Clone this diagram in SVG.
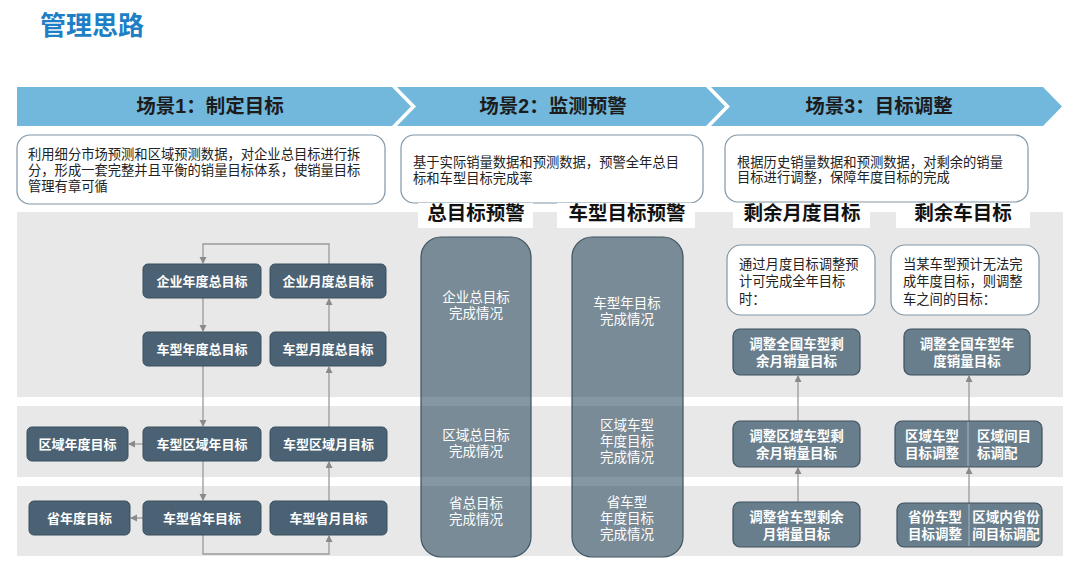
<svg xmlns="http://www.w3.org/2000/svg" width="1080" height="562" viewBox="0 0 1080 562">
<defs>
<style>
text{font-family:"Liberation Sans","Noto Sans CJK SC",sans-serif;dominant-baseline:central}
.title{font-size:26px;font-weight:bold;fill:#1f7fc6}
.ban{fill:#72b8dc}
.bt{font-size:19.5px;font-weight:bold;fill:#1c1c1c;text-anchor:middle}
.desc{fill:#fff;stroke:#8196a6;stroke-width:1.2}
.dt{font-size:13.3px;fill:#222}
.band{fill:#e8e8e8}
.hb{fill:#fff}
.ht{font-size:19.5px;font-weight:bold;fill:#111;text-anchor:middle}
.n{fill:#4b6274;stroke:#3a4e5d;stroke-width:1}
.nt{font-size:13px;font-weight:bold;fill:#fff;text-anchor:middle}
.col{fill:#062a42;fill-opacity:0.49;stroke:#3f5361;stroke-width:1.2}
.ct{font-size:13.5px;fill:#fff;text-anchor:middle}
.rn{fill:#697e8c;stroke:#3e5160;stroke-width:1.2}
.rt{font-size:13.5px;font-weight:bold;fill:#fff;text-anchor:middle}
.rtl{font-size:13.5px;font-weight:bold;fill:#fff}
.div{stroke:#a7b6c1;stroke-width:1}
.c{fill:none;stroke:#9a9a9a;stroke-width:1.3;marker-end:url(#ah)}
</style>
<marker id="ah" markerWidth="8" markerHeight="8" refX="6" refY="3.5" orient="auto" markerUnits="userSpaceOnUse">
<path d="M0,0 L7,3.5 L0,7 Z" fill="#8a8a8a"/>
</marker>
</defs>
<rect width="1080" height="562" fill="#fff"/>
<text class="title" x="40" y="26">管理思路</text>

<g id="banner">
<polygon class="ban" points="17,87 392,87 411,106.5 392,126 17,126"/>
<polygon class="ban" points="397,87 706,87 725,106.5 706,126 397,126 416,106.5"/>
<polygon class="ban" points="711,87 1043,87 1062,106.5 1043,126 711,126 730,106.5"/>
<text class="bt" x="210" y="106">场景1：制定目标</text>
<text class="bt" x="553" y="106">场景2：监测预警</text>
<text class="bt" x="879" y="106">场景3：目标调整</text>
</g>

<g id="bands">
<rect class="band" x="17" y="212" width="1046" height="185"/>
<rect class="band" x="17" y="406" width="1046" height="71"/>
<rect class="band" x="17" y="486" width="1046" height="70"/>
</g>

<g id="desc1">
<rect class="desc" x="17" y="135" width="368" height="69" rx="13"/>
<text class="dt"><tspan x="28" y="154">利用细分市场预测和区域预测数据，对企业总目标进行拆</tspan><tspan x="28" y="170">分，形成一套完整并且平衡的销量目标体系，使销量目标</tspan><tspan x="28" y="186">管理有章可循</tspan></text>
</g>
<g id="desc2">
<rect class="desc" x="401" y="135" width="302" height="68" rx="13"/>
<text class="dt"><tspan x="413" y="162">基于实际销量数据和预测数据，预警全年总目</tspan><tspan x="413" y="178">标和车型目标完成率</tspan></text>
</g>
<g id="desc3">
<rect class="desc" x="725" y="135" width="303" height="67" rx="13"/>
<text class="dt"><tspan x="737" y="162">根据历史销量数据和预测数据，对剩余的销量</tspan><tspan x="737" y="177">目标进行调整，保障年度目标的完成</tspan></text>
</g>

<g id="headers">
<rect class="hb" x="418" y="203" width="115" height="25"/>
<text class="ht" x="476" y="213">总目标预警</text>
<rect class="hb" x="557" y="203" width="138" height="25"/>
<text class="ht" x="627" y="213">车型目标预警</text>
<rect class="hb" x="733" y="203" width="137" height="25"/>
<text class="ht" x="802" y="213">剩余月度目标</text>
<rect class="hb" x="896" y="203" width="134" height="25"/>
<text class="ht" x="963" y="213">剩余车目标</text>
</g>

<g id="connectors">
<path class="c" d="M329,264 V244 H203 V263"/>
<path class="c" d="M203,298 V331"/>
<path class="c" d="M203,366 V426"/>
<path class="c" d="M203,461 V500"/>
<path class="c" d="M143,444 H129"/>
<path class="c" d="M143,518 H131"/>
<path class="c" d="M203,535 V554 H329 V536"/>
<path class="c" d="M329,501 V462"/>
<path class="c" d="M329,427 V367"/>
<path class="c" d="M329,332 V299"/>
<path class="c" d="M798,421 V376"/>
<path class="c" d="M798,502 V468"/>
<path class="c" d="M969,421 V376"/>
<path class="c" d="M969,503 V468"/>
</g>

<g id="n-qyndzmb"><rect class="n" x="143" y="264" width="118" height="34" rx="5"/><text class="nt" x="202" y="281">企业年度总目标</text></g>
<g id="n-qyydzmb"><rect class="n" x="270" y="264" width="116" height="34" rx="5"/><text class="nt" x="328" y="281">企业月度总目标</text></g>
<g id="n-cxndzmb"><rect class="n" x="143" y="332" width="118" height="34" rx="5"/><text class="nt" x="202" y="349">车型年度总目标</text></g>
<g id="n-cxydzmb"><rect class="n" x="270" y="332" width="116" height="34" rx="5"/><text class="nt" x="328" y="349">车型月度总目标</text></g>
<g id="n-qyndmb"><rect class="n" x="27" y="427" width="101" height="34" rx="5"/><text class="nt" x="77.5" y="444">区域年度目标</text></g>
<g id="n-cxqynmb"><rect class="n" x="143" y="427" width="118" height="34" rx="5"/><text class="nt" x="202" y="444">车型区域年目标</text></g>
<g id="n-cxqyymb"><rect class="n" x="270" y="427" width="117" height="34" rx="5"/><text class="nt" x="328.5" y="444">车型区域月目标</text></g>
<g id="n-sndmb"><rect class="n" x="29" y="501" width="101" height="34" rx="5"/><text class="nt" x="79.5" y="518">省年度目标</text></g>
<g id="n-cxsnmb"><rect class="n" x="143" y="501" width="118" height="34" rx="5"/><text class="nt" x="202" y="518">车型省年目标</text></g>
<g id="n-cxsymb"><rect class="n" x="270" y="501" width="117" height="34" rx="5"/><text class="nt" x="328.5" y="518">车型省月目标</text></g>

<g id="col-total">
<rect class="col" x="421" y="237" width="110" height="320" rx="20"/>
<text class="ct"><tspan x="476" y="297">企业总目标</tspan><tspan x="476" y="313">完成情况</tspan></text>
<text class="ct"><tspan x="476" y="435">区域总目标</tspan><tspan x="476" y="451">完成情况</tspan></text>
<text class="ct"><tspan x="476" y="503">省总目标</tspan><tspan x="476" y="519">完成情况</tspan></text>
</g>
<g id="col-model">
<rect class="col" x="572" y="237" width="111" height="320" rx="20"/>
<text class="ct"><tspan x="627" y="303">车型年目标</tspan><tspan x="627" y="319">完成情况</tspan></text>
<text class="ct"><tspan x="627" y="425">区域车型</tspan><tspan x="627" y="441">年度目标</tspan><tspan x="627" y="457">完成情况</tspan></text>
<text class="ct"><tspan x="627" y="502">省车型</tspan><tspan x="627" y="518">年度目标</tspan><tspan x="627" y="534">完成情况</tspan></text>
</g>

<g id="note-month">
<rect class="desc" x="727" y="245" width="148" height="70" rx="14"/>
<text class="dt"><tspan x="739" y="264">通过月度目标调整预</tspan><tspan x="739" y="281">计可完成全年目标</tspan><tspan x="739" y="299">时：</tspan></text>
</g>
<g id="note-car">
<rect class="desc" x="891" y="245" width="148" height="70" rx="14"/>
<text class="dt"><tspan x="903" y="264">当某车型预计无法完</tspan><tspan x="903" y="281">成年度目标，则调整</tspan><tspan x="903" y="299">车之间的目标：</tspan></text>
</g>

<g id="r-national-month"><rect class="rn" x="733" y="329" width="127" height="46" rx="7"/><text class="rt"><tspan x="796.5" y="344">调整全国车型剩</tspan><tspan x="796.5" y="361">余月销量目标</tspan></text></g>
<g id="r-national-year"><rect class="rn" x="904" y="329" width="126" height="46" rx="7"/><text class="rt"><tspan x="967" y="344">调整全国车型年</tspan><tspan x="967" y="361">度销量目标</tspan></text></g>
<g id="r-region-month"><rect class="rn" x="733" y="421" width="127" height="46" rx="7"/><text class="rt"><tspan x="796.5" y="436">调整区域车型剩</tspan><tspan x="796.5" y="453">余月销量目标</tspan></text></g>
<g id="r-region-car"><rect class="rn" x="895" y="421" width="147" height="46" rx="7"/><line class="div" x1="968" y1="422" x2="968" y2="466"/><text class="rt"><tspan x="932" y="436">区域车型</tspan><tspan x="932" y="453">目标调整</tspan></text><text class="rtl"><tspan x="977" y="436">区域间目</tspan><tspan x="977" y="453">标调配</tspan></text></g>
<g id="r-prov-month"><rect class="rn" x="733" y="502" width="127" height="45" rx="7"/><text class="rt"><tspan x="796.5" y="517">调整省车型剩余</tspan><tspan x="796.5" y="534">月销量目标</tspan></text></g>
<g id="r-prov-car"><rect class="rn" x="897" y="503" width="145" height="44" rx="7"/><line class="div" x1="969" y1="504" x2="969" y2="546"/><text class="rt"><tspan x="935" y="517">省份车型</tspan><tspan x="935" y="534">目标调整</tspan></text><text class="rt"><tspan x="1006" y="517">区域内省份</tspan><tspan x="1006" y="534">间目标调配</tspan></text></g>
</svg>
